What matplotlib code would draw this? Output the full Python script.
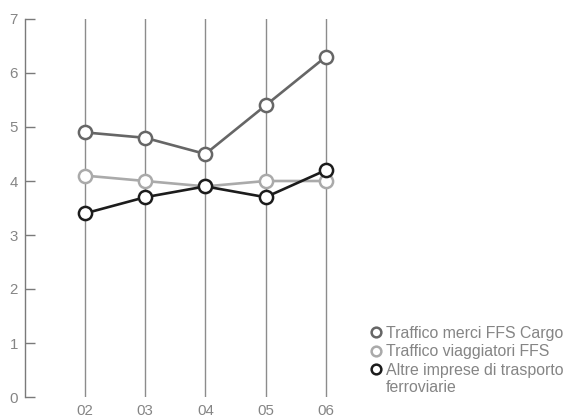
import matplotlib
matplotlib.use("Agg")
import matplotlib.pyplot as plt
from matplotlib.lines import Line2D

years = ["02", "03", "04", "05", "06"]
cargo = [4.9, 4.8, 4.5, 5.4, 6.3]
viaggiatori = [4.1, 4.0, 3.9, 4.0, 4.0]
altre = [3.4, 3.7, 3.9, 3.7, 4.2]
y_ticks = [0, 1, 2, 3, 4, 5, 6, 7]
labels = ["Traffico merci FFS Cargo", "Traffico viaggiatori FFS",
          "Altre imprese di trasporto\nferroviarie"]
colors = ["#666666", "#aaaaaa", "#1c1c1c"]

plt.rcParams["font.family"] = ["Liberation Sans", "DejaVu Sans"]
text_color = "#858585"
tick_fs = 10.8
legend_fs = 11.4

W, H = 571, 419
fig = plt.figure(figsize=(W / 100, H / 100), dpi=100)
ax = fig.add_axes([25 / W, (H - 397) / H, 361 / W, 378 / H])

x = list(range(len(years)))
for xi in x:
    ax.plot([xi, xi], [0, 7], color="#8c8c8c", lw=1.0, zorder=1)

for series, c in zip([cargo, viaggiatori, altre], colors):
    ax.plot(x, series, color=c, lw=1.9, marker="o", markersize=9.5,
            markerfacecolor="white", markeredgecolor=c, markeredgewidth=1.8,
            zorder=3)

ax.set_xlim(-0.996, 5.0)
ax.set_ylim(0, 7)
for s in ["top", "right", "bottom"]:
    ax.spines[s].set_visible(False)
ax.spines["left"].set_color("#7a7a7a")
ax.spines["left"].set_linewidth(1.0)
ax.set_yticks(y_ticks)
ax.set_yticklabels([str(v) for v in y_ticks])
ax.tick_params(axis="y", direction="in", length=7.5, width=1.0,
               color="#7a7a7a", labelcolor=text_color, labelsize=tick_fs, pad=5)
ax.set_xticks(x)
ax.set_xticklabels(years)
ax.tick_params(axis="x", length=0, labelcolor=text_color, labelsize=tick_fs,
               pad=5)

# legend drawn in figure pixel space
rows = [332, 350.5, 369]
for lab, c, ry in zip(labels, colors, rows):
    fy = (H - ry) / H
    fig.add_artist(Line2D([376 / W], [fy], marker="o", markersize=7.0,
                          markerfacecolor="white", markeredgecolor=c,
                          markeredgewidth=1.8, transform=fig.transFigure))
    fig.text(386 / W, fy + 6.5 / H, lab, color=text_color, fontsize=legend_fs,
             va="top", ha="left", linespacing=1.2,
             transform=fig.transFigure)

fig.savefig("out.png", dpi=100)
